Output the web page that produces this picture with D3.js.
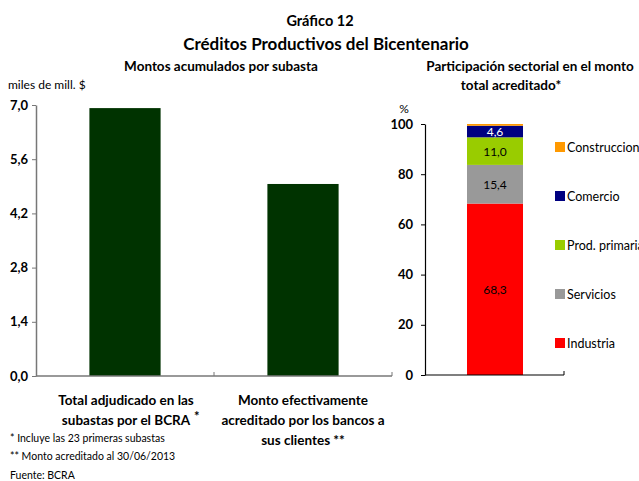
<!DOCTYPE html>
<html>
<head>
<meta charset="utf-8">
<script src="https://cdn.jsdelivr.net/npm/d3@7"></script>
<style>
  body { margin: 0; background: #fff; }
  text { font-family: Lato, "Open Sans", sans-serif; fill: #000; }
</style>
</head>
<body>
<div id="chart"></div>
<script>
// left panel
const montoCats = ['Total adjudicado en las|subastas por el BCRA', 'Monto efectivamente|acreditado por los bancos a|sus clientes **']
const montoVals = [6.92, 4.96]
const montoTicks = [0, 1.4, 2.8, 4.2, 5.6, 7.0]

// right panel, bottom to top
const sectores = ['Industria', 'Servicios', 'Prod. primaria', 'Comercio', 'Construccion']
const participacion = [68.3, 15.4, 11.0, 4.6, 0.7]
const sectorColors = ['#ff0000', '#999999', '#99cc00', '#000080', '#ff9900']
const pctTicks = [0, 20, 40, 60, 80, 100]

const fmt = d => d3.format('.1f')(d).replace('.', ',')

let svg = d3.select('#chart').append('svg')
    .attr('width', 639)
    .attr('height', 481)

svg.append('text').attr('x', 320).attr('y', 26).attr('text-anchor', 'middle')
    .style('font-size', '14.5px').style('font-weight', 'bold').text('Gráfico 12')
svg.append('text').attr('x', 326).attr('y', 50).attr('text-anchor', 'middle')
    .style('font-size', '17px').style('font-weight', 'bold').text('Créditos Productivos del Bicentenario')
svg.append('text').attr('x', 221).attr('y', 71).attr('text-anchor', 'middle')
    .style('font-size', '13.5px').style('font-weight', 'bold').text('Montos acumulados por subasta')
svg.append('text').attr('x', 8).attr('y', 89)
    .style('font-size', '12px').text('miles de mill. $')

// ---- left chart
let x1 = d3.scaleBand().domain(montoCats).range([36, 392]).paddingInner(0.6).paddingOuter(0.3)
let y1 = d3.scaleLinear().domain([0, 7]).range([376, 105])

let g1 = svg.append('g')
g1.selectAll('rect').data(montoVals).enter().append('rect')
    .attr('x', (d, i) => x1(montoCats[i]))
    .attr('width', x1.bandwidth())
    .attr('y', d => y1(d))
    .attr('height', d => y1(0) - y1(d))
    .attr('fill', '#003300')

let yAxis1 = g1.append('g').attr('transform', 'translate(36,0)')
    .call(d3.axisLeft(y1).tickValues(montoTicks).tickFormat(fmt).tickSize(4).tickSizeOuter(0))
yAxis1.select('.domain').attr('stroke', '#777').attr('stroke-width', 1.5)
yAxis1.selectAll('.tick line').attr('stroke', '#777')
yAxis1.selectAll('.tick text').attr('x', -8)
    .style('font-size', '13px').style('font-weight', 'bold').style('font-family', 'Lato, sans-serif')

let xAxis1 = g1.append('g').attr('transform', 'translate(0,376)')
xAxis1.append('line').attr('x1', 36).attr('x2', 392).attr('stroke', '#777').attr('stroke-width', 1.5)
xAxis1.selectAll('.tk').data([214, 392]).enter().append('line')
    .attr('x1', d => d).attr('x2', d => d).attr('y1', 0).attr('y2', -4).attr('stroke', '#777')

montoCats.forEach((c, i) => {
    let lines = c.split('|')
    let t = svg.append('text').attr('text-anchor', 'middle')
        .style('font-size', '13.5px').style('font-weight', 'bold')
    let cx = i === 0 ? 126 : 303
    lines.forEach((l, j) => {
        t.append('tspan').attr('x', cx).attr('y', 405 + j * 20).text(l)
    })
    if (i === 0) {
        svg.append('text').attr('x', 194).attr('y', 421)
            .style('font-size', '13px').style('font-weight', 'bold').text('*')
    }
})

// footnotes
const notas = ['* Incluye las 23 primeras subastas', '** Monto acreditado al 30/06/2013', 'Fuente: BCRA']
svg.selectAll('.nota').data(notas).enter().append('text')
    .attr('x', 10).attr('y', (d, i) => 442 + i * 18 + (i === 2 ? 1 : 0))
    .style('font-size', '10.5px').text(d => d)

// ---- right chart
svg.append('text').attr('x', 530).attr('y', 71).attr('text-anchor', 'middle')
    .style('font-size', '13.5px').style('font-weight', 'bold').text('Participación sectorial en el monto')
svg.append('text').attr('x', 511).attr('y', 90).attr('text-anchor', 'middle')
    .style('font-size', '13.5px').style('font-weight', 'bold').text('total acreditado*')
svg.append('text').attr('x', 404).attr('y', 113).attr('text-anchor', 'middle')
    .style('font-size', '12px').text('%')

let y2 = d3.scaleLinear().domain([0, 100]).range([375, 124])
let stackData = []
let acc = 0
participacion.forEach((v, i) => {
    stackData.push({ name: sectores[i], v: v, y0: acc, y1: acc + v, color: sectorColors[i] })
    acc += v
})

let g2 = svg.append('g')
g2.selectAll('rect').data(stackData).enter().append('rect')
    .attr('x', 467).attr('width', 56)
    .attr('y', d => y2(d.y1))
    .attr('height', d => y2(d.y0) - y2(d.y1))
    .attr('fill', d => d.color)

g2.selectAll('.lbl').data(stackData.filter(d => d.v > 2)).enter().append('text')
    .attr('x', 495).attr('y', d => y2((d.y0 + d.y1) / 2) + 4.5)
    .attr('text-anchor', 'middle')
    .style('font-size', '12px')
    .style('fill', d => d.name === 'Comercio' ? '#fff' : '#000')
    .text(d => fmt(d.v))

let yAxis2 = g2.append('g').attr('transform', 'translate(425,0)')
    .call(d3.axisLeft(y2).tickValues(pctTicks).tickSize(4).tickSizeOuter(0))
yAxis2.select('.domain').attr('stroke', '#000').attr('stroke-width', 1.2)
yAxis2.selectAll('.tick line').attr('stroke', '#000')
yAxis2.selectAll('.tick text').attr('x', -12)
    .style('font-size', '13px').style('font-weight', 'bold').style('font-family', 'Lato, sans-serif')

g2.append('line').attr('x1', 425).attr('x2', 564).attr('y1', 375).attr('y2', 375)
    .attr('stroke', '#000').attr('stroke-width', 1.2)
g2.append('line').attr('x1', 564).attr('x2', 564).attr('y1', 375).attr('y2', 371).attr('stroke', '#000')

// legend, top to bottom
let legend = svg.append('g')
let legItems = stackData.slice().reverse()
legend.selectAll('rect').data(legItems).enter().append('rect')
    .attr('x', 555).attr('y', (d, i) => 142 + i * 49)
    .attr('width', 10).attr('height', 10)
    .attr('fill', d => d.color)
legend.selectAll('text').data(legItems).enter().append('text')
    .attr('x', 567).attr('y', (d, i) => 152 + i * 49)
    .style('font-size', '12.5px')
    .text(d => d.name)
</script>
</body>
</html>
